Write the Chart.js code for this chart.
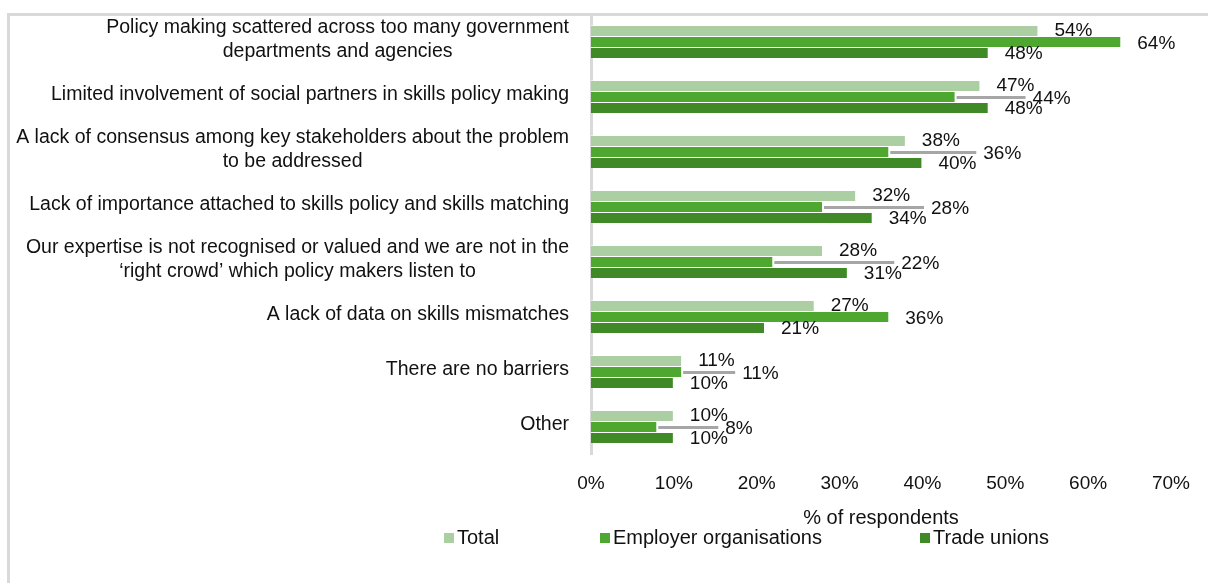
<!DOCTYPE html>
<html>
<head>
<meta charset="utf-8">
<script src="https://cdn.jsdelivr.net/npm/chart.js@4"></script>
<style>
  html, body { margin: 0; padding: 0; background: #ffffff; }
  canvas { display: block; }
</style>
</head>
<body>
<canvas id="chart" width="1208" height="583"></canvas>
<script>
// Barriers to social partner involvement in skills policy (% of respondents)
const categories = [
  ["Policy making scattered across too many government", "departments and agencies"],
  ["Limited involvement of social partners in skills policy making"],
  ["A lack of consensus among key stakeholders about the problem", "to be addressed"],
  ["Lack of importance attached to skills policy and skills matching"],
  ["Our expertise is not recognised or valued and we are not in the", "\u2018right crowd\u2019 which policy makers listen to"],
  ["A lack of data on skills mismatches"],
  ["There are no barriers"],
  ["Other"]
];
const seriesNames = ["Total", "Employer organisations", "Trade unions"];
const totalValues = [54, 47, 38, 32, 28, 27, 11, 10];
const employerValues = [64, 44, 36, 28, 22, 36, 11, 8];
const tradeUnionValues = [48, 48, 40, 34, 31, 21, 10, 10];
const xTickValues = [0, 10, 20, 30, 40, 50, 60, 70];
const axisTitle = "% of respondents";

// Extra horizontal shift (px) for employer labels that are pulled out with a leader line
const employerLabelShift = [0, 61, 78, 92, 112, 0, 44, 52];

const colors = ["#abcea3", "#4ea72f", "#3f8a26"];
const SANS = "'Liberation Sans', Arial, sans-serif";
const LABEL_FONT = "19px " + SANS;
const TEXT = "#111111";

const framePlugin = {
  id: "frame",
  beforeDraw(chart) {
    const c = chart.ctx;
    c.save();
    c.fillStyle = "#ffffff";
    c.fillRect(0, 0, chart.width, chart.height);
    c.fillStyle = "#d9d9d9";
    c.fillRect(7, 13, chart.width - 7, 3);
    c.fillRect(7, 13, 3, chart.height - 13);
    c.restore();
  }
};

const categoryLabelPlugin = {
  id: "categoryLabels",
  afterDraw(chart) {
    const c = chart.ctx;
    const yScale = chart.scales.y;
    const rightEdge = 569;
    const lineH = 24;
    c.save();
    c.font = "19.5px " + SANS;
    c.fillStyle = TEXT;
    c.textBaseline = "middle";
    c.textAlign = "center";
    chart.data.labels.forEach((lines, i) => {
      const cy = yScale.getPixelForTick(i) - 1.5;
      const maxW = Math.max(...lines.map(l => c.measureText(l).width));
      const cx = rightEdge - maxW / 2;
      const y0 = cy - (lines.length - 1) * lineH / 2;
      lines.forEach((l, k) => c.fillText(l, cx, y0 + k * lineH));
    });
    c.restore();
  }
};

const valueLabelPlugin = {
  id: "valueLabels",
  afterDatasetsDraw(chart) {
    const c = chart.ctx;
    c.save();
    c.font = LABEL_FONT;
    c.fillStyle = TEXT;
    c.textBaseline = "middle";
    c.textAlign = "left";
    chart.data.datasets.forEach((ds, di) => {
      const meta = chart.getDatasetMeta(di);
      meta.data.forEach((bar, i) => {
        const txt = ds.data[i] + "%";
        let x = bar.x + 16;
        let y = bar.y;
        if (di === 1) {
          const shift = employerLabelShift[i];
          y = bar.y + 2;
          if (shift > 0) {
            x += shift;
            c.save();
            c.strokeStyle = "#a6a6a6";
            c.lineWidth = 3;
            c.beginPath();
            c.moveTo(bar.x + 1, bar.y + 1);
            c.lineTo(x - 7, bar.y + 1);
            c.stroke();
            c.restore();
          }
        } else if (di === 2) {
          y = bar.y + 1;
        }
        c.fillText(txt, x, y);
      });
    });
    c.restore();
  }
};

const titleLegendPlugin = {
  id: "titleLegend",
  afterDraw(chart) {
    const c = chart.ctx;
    const area = chart.chartArea;
    c.save();
    c.font = "20px " + SANS;
    c.fillStyle = TEXT;
    c.textBaseline = "middle";
    c.textAlign = "center";
    c.fillText(axisTitle, (area.left + area.right) / 2, 518);
    // legend entries
    const starts = [444, 600, 920];
    c.textAlign = "left";
    chart.data.datasets.forEach((ds, di) => {
      c.fillStyle = ds.backgroundColor;
      c.fillRect(starts[di], 533, 10, 10);
      c.fillStyle = TEXT;
      c.fillText(ds.label, starts[di] + 13, 538);
    });
    c.restore();
  }
};

new Chart(document.getElementById("chart"), {
  type: "bar",
  data: {
    labels: categories,
    datasets: [
      { label: seriesNames[0], data: totalValues, backgroundColor: colors[0] },
      { label: seriesNames[1], data: employerValues, backgroundColor: colors[1] },
      { label: seriesNames[2], data: tradeUnionValues, backgroundColor: colors[2] }
    ]
  },
  options: {
    indexAxis: "y",
    responsive: false,
    animation: false,
    devicePixelRatio: 1,
    layout: { padding: { top: 14, right: 37, left: 0, bottom: 0 } },
    datasets: {
      bar: {
        categoryPercentage: 0.6,
        barPercentage: 1.0,
        borderWidth: { right: 1, top: 1, bottom: 0, left: 0 },
        borderColor: "rgba(255,255,255,0.55)",
        borderSkipped: "left"
      }
    },
    plugins: {
      legend: { display: false },
      tooltip: { enabled: false }
    },
    scales: {
      x: {
        min: 0,
        max: 70,
        afterBuildTicks(scale) {
          scale.ticks = xTickValues.map(v => ({ value: v }));
        },
        afterFit(scale) { scale.height = 129; },
        grid: { display: false, drawTicks: false },
        border: { display: false },
        ticks: {
          padding: 18,
          color: TEXT,
          font: { family: SANS, size: 19 },
          maxRotation: 0,
          callback: v => v + "%"
        }
      },
      y: {
        afterFit(scale) { scale.width = 591; },
        grid: { display: false, drawTicks: false },
        border: { display: true, color: "#d9d9d9", width: 3 },
        ticks: { display: false }
      }
    }
  },
  plugins: [framePlugin, categoryLabelPlugin, valueLabelPlugin, titleLegendPlugin]
});
</script>
</body>
</html>
